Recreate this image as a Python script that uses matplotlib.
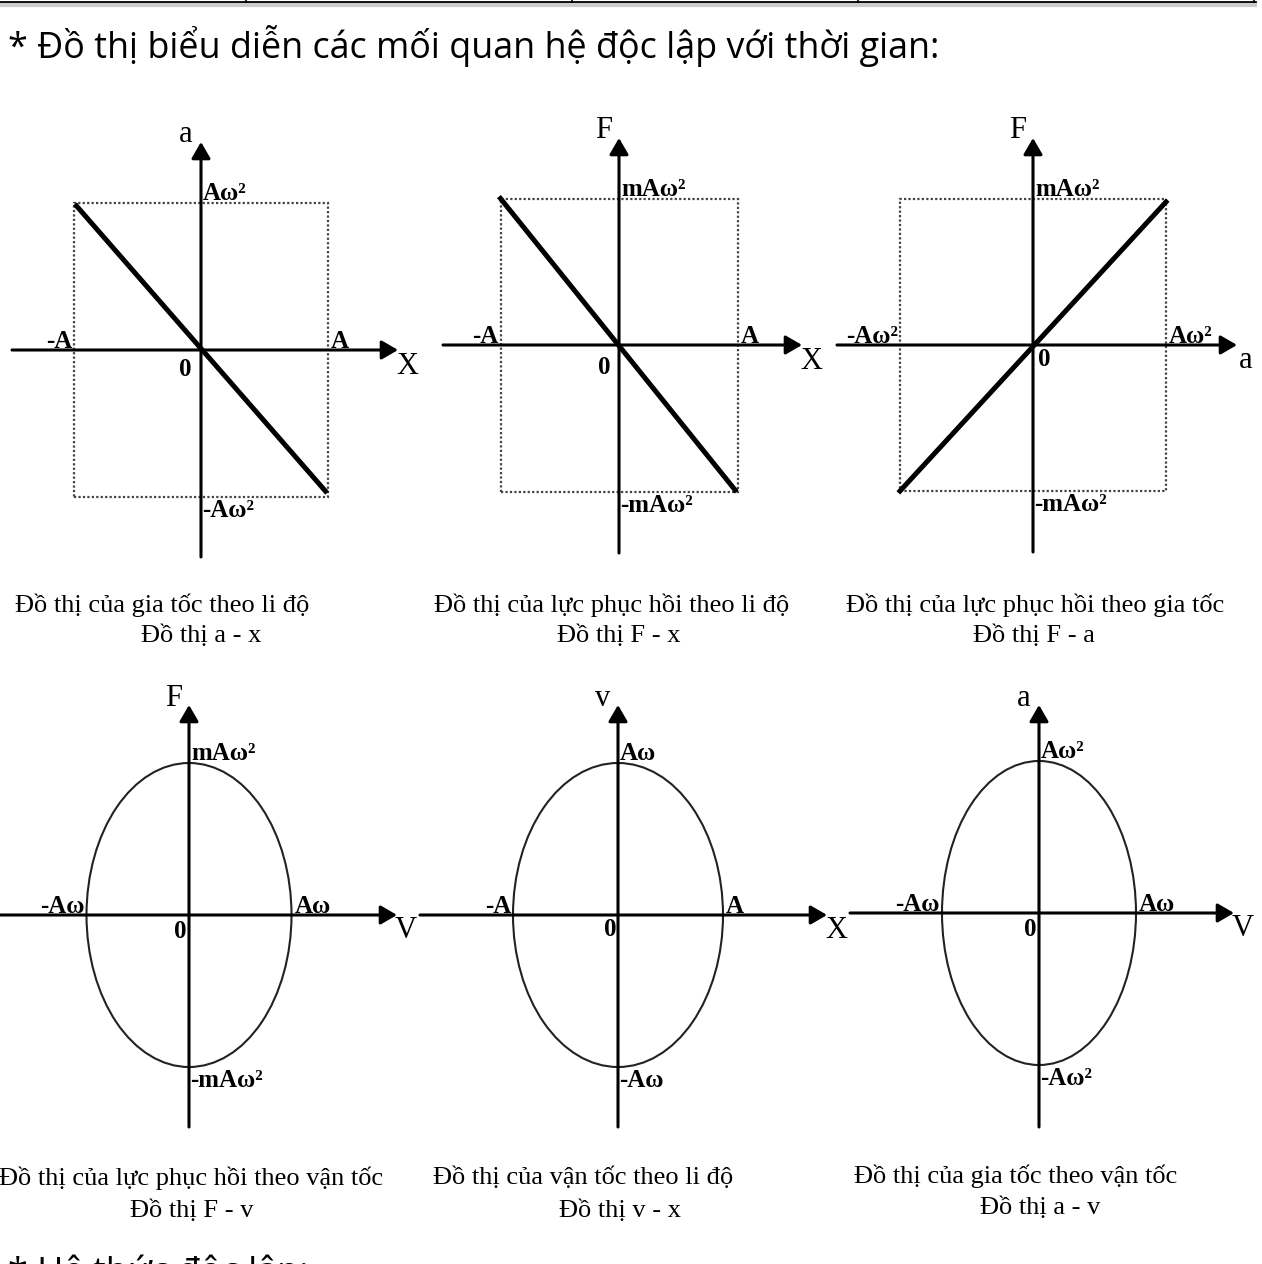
import numpy as np
import matplotlib
matplotlib.use('Agg')
import matplotlib.pyplot as plt
from matplotlib.patches import Ellipse, Rectangle
from matplotlib.lines import Line2D

# Text of the page
header = '* Đồ thị biểu diễn các mối quan hệ độc lập với thời gian:'
footer = '* Hệ thức độc lập:'

# Six panels: axis names, tick labels, captions
x_names = ['X', 'X', 'a', 'V', 'X', 'V']
y_names = ['a', 'F', 'F', 'F', 'v', 'a']
top_labels = ['Aω²', 'mAω²', 'mAω²', 'mAω²', 'Aω', 'Aω²']
bottom_labels = ['-Aω²', '-mAω²', '-mAω²', '-mAω²', '-Aω', '-Aω²']
left_labels = ['-A', '-A', '-Aω²', '-Aω', '-A', '-Aω']
right_labels = ['A', 'A', 'Aω²', 'Aω', 'A', 'Aω']
captions_1 = ['Đồ thị của gia tốc theo li độ', 'Đồ thị của lực phục hồi theo li độ',
              'Đồ thị của lực phục hồi theo gia tốc', 'Đồ thị của lực phục hồi theo vận tốc',
              'Đồ thị của vận tốc theo li độ', 'Đồ thị của gia tốc theo vận tốc']
captions_2 = ['Đồ thị a - x', 'Đồ thị F - x', 'Đồ thị F - a',
              'Đồ thị F - v', 'Đồ thị v - x', 'Đồ thị a - v']

# kind of curve: straight line (with endpoints) or ellipse
kinds = ['line', 'line', 'line', 'ellipse', 'ellipse', 'ellipse']
line_x = [[-0.98, 0.98], [-1, 0.98], [-1, 1]]
line_y = [[0.98, -0.96], [1, -0.99], [-1, 0.98]]

# layout in pixels (origin, px per unit, axis extents)
W, H = 1262, 1264
origins = [(201, 350), (619, 345), (1033, 345), (189, 915), (618, 915), (1039, 913)]
scales = [(127, 147), (118.5, 146.5), (133, 146), (102.5, 152), (105, 152), (97, 152)]
x_ext = [(12, 398), (443, 802), (837, 1237), (0, 397), (420, 827), (850, 1234)]
y_ext = [(142, 557), (138, 553), (138, 552), (705, 1127), (705, 1127), (705, 1127)]
zero_off = [(-16, -19), (-15, -22), (11, -15), (-9, -17), (-8, -15), (-9, -17)]
cap_x1 = [162, 612, 1035, 191, 583, 1016]
cap_x2 = [201, 619, 1034, 192, 620, 1040]
cap_y1 = [605, 605, 605, 1178, 1178, 1176]
cap_y2 = [636, 636, 636, 1211, 1211, 1208]

serif = 'Liberation Serif'
lab_fs = 18

fig = plt.figure(figsize=(W / 100, H / 100), dpi=100)
fig.patch.set_facecolor('white')

# table border at the very top
fig.add_artist(Line2D([0, 1255 / W], [1 - 2 / H, 1 - 2 / H], color='black', lw=2))
fig.add_artist(Line2D([0, 1255 / W], [1 - 5 / H, 1 - 5 / H], color='#cccccc', lw=3))
for vx in [246, 572, 858, 1254]:
    fig.add_artist(Line2D([vx / W, vx / W], [1 - 2 / H, 1], color='black', lw=1.2))

fig.text(8 / W, 1 - 58 / H, header, fontsize=25.8, family='Open Sans', va='baseline')
# next heading, cut by the bottom edge as in the page
fig.text(8 / W, 1 - 1283 / H, footer, fontsize=25.8, family='Open Sans', va='baseline')

arrow = dict(arrowstyle='-|>,head_length=0.55,head_width=0.32', lw=2.2, color='black',
             shrinkA=0, shrinkB=0, mutation_scale=18)

for i in range(6):
    ox, oy = origins[i]
    sx, sy = scales[i]
    ax = fig.add_axes([0, 0, 1, 1])
    ax.set_xlim(-ox / sx, (W - ox) / sx)
    ax.set_ylim(-(H - oy) / sy, oy / sy)
    ax.axis('off')
    ax.patch.set_visible(False)

    def dx(px):
        return (px - ox) / sx

    def dy(py):
        return (oy - py) / sy

    # curve
    if kinds[i] == 'line':
        ax.add_patch(Rectangle((-1, -1), 2, 2, fill=False, ls=(0, (1, 1)), lw=1.6,
                               ec='#444444', zorder=1))
        ax.plot(line_x[i], line_y[i], color='black', lw=3.6, zorder=3)
    else:
        ax.add_patch(Ellipse((0, 0), 2, 2, fill=False, lw=1.5, ec='#222222', zorder=3))

    # axes with arrows
    ax.annotate('', xy=(dx(x_ext[i][1]), 0), xytext=(dx(x_ext[i][0]), 0), arrowprops=arrow, zorder=4)
    ax.annotate('', xy=(0, dy(y_ext[i][0])), xytext=(0, dy(y_ext[i][1])), arrowprops=arrow, zorder=4)

    # axis names
    ax.annotate(x_names[i], xy=(dx(x_ext[i][1]), 0), xytext=(9, -16), textcoords='offset pixels',
                ha='center', va='center', fontsize=22, family=serif)
    ax.annotate(y_names[i], xy=(0, dy(y_ext[i][0])), xytext=(-15, 7), textcoords='offset pixels',
                ha='center', va='center', fontsize=22, family=serif)

    # tick labels
    bold = dict(fontsize=lab_fs, family=serif, fontweight='bold')
    ax.annotate(top_labels[i], xy=(0, 1), xytext=(2, 3), textcoords='offset pixels',
                ha='left', va='baseline', **bold)
    ax.annotate(bottom_labels[i], xy=(0, -1), xytext=(1, -2), textcoords='offset pixels',
                ha='left', va='top', **bold)
    ax.annotate(left_labels[i], xy=(-1, 0), xytext=(-2, 2), textcoords='offset pixels',
                ha='right', va='baseline', **bold)
    ax.annotate(right_labels[i], xy=(1, 0), xytext=(3, 2), textcoords='offset pixels',
                ha='left', va='baseline', **bold)
    ax.annotate('0', xy=(0, 0), xytext=zero_off[i], textcoords='offset pixels',
                ha='center', va='center', **bold)

    # captions
    fig.text(cap_x1[i] / W, 1 - cap_y1[i] / H, captions_1[i], fontsize=19, family=serif,
             ha='center', va='center')
    fig.text(cap_x2[i] / W, 1 - cap_y2[i] / H, captions_2[i], fontsize=19, family=serif,
             ha='center', va='center')

fig.savefig('out.png', dpi=100)
